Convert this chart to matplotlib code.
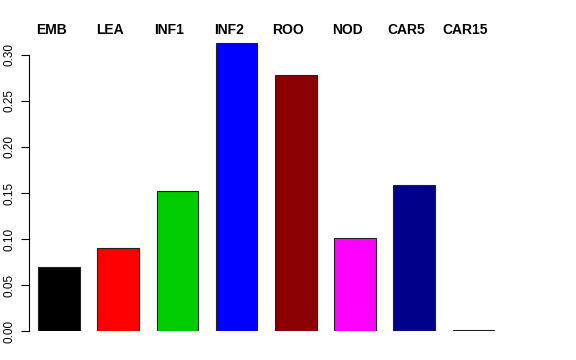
import matplotlib
matplotlib.use("Agg")
import matplotlib.pyplot as plt

# tissue groups and their values
groups = ["EMB", "LEA", "INF1", "INF2", "ROO", "NOD", "CAR5", "CAR15"]
values = [0.0697, 0.0905, 0.152, 0.3127, 0.278, 0.101, 0.1587, 0.001]
colors = ["black", "red", "#00CD00", "blue", "#8B0000", "magenta", "#00008B", "orange"]
yticks = [0.00, 0.05, 0.10, 0.15, 0.20, 0.25, 0.30]

plt.rcParams["font.family"] = ["Liberation Sans", "DejaVu Sans"]

W, H = 576, 360
fig = plt.figure(figsize=(W / 100, H / 100), dpi=100)

# axes placed so the y axis sits at x=29px, zero at y=331px
left_px, right_px, top_px, bottom_px = 29, 503.4, 30, 331
ax = fig.add_axes([left_px / W, (H - bottom_px) / H,
                   (right_px - left_px) / W, (bottom_px - top_px) / H])

x = list(range(len(groups)))
bars = ax.bar(x, values, width=0.7, color=colors, edgecolor="#222222", linewidth=0.8)
bars[-1].set_facecolor("#444444")

ax.set_xlim(-0.507, 7.507)
ax.set_ylim(0, (bottom_px - top_px) / 920)

for s in ["top", "right", "bottom"]:
    ax.spines[s].set_visible(False)
ax.spines["left"].set_bounds(0, 0.30)
ax.spines["left"].set_linewidth(0.8)

ax.set_xticks([])
ax.set_yticks(yticks)
ax.set_yticklabels([f"{t:.2f}" for t in yticks], rotation=90, va="center",
                   fontsize=8.5)
ax.tick_params(axis="y", length=5.5, width=0.8, pad=4.5)

# group names along the top
for i, g in enumerate(groups):
    ax.text(i - 0.135, 0.999, g, transform=ax.get_xaxis_transform(),
            ha="center", va="center", fontsize=10, fontweight="bold")

fig.savefig("out.png", dpi=100)
